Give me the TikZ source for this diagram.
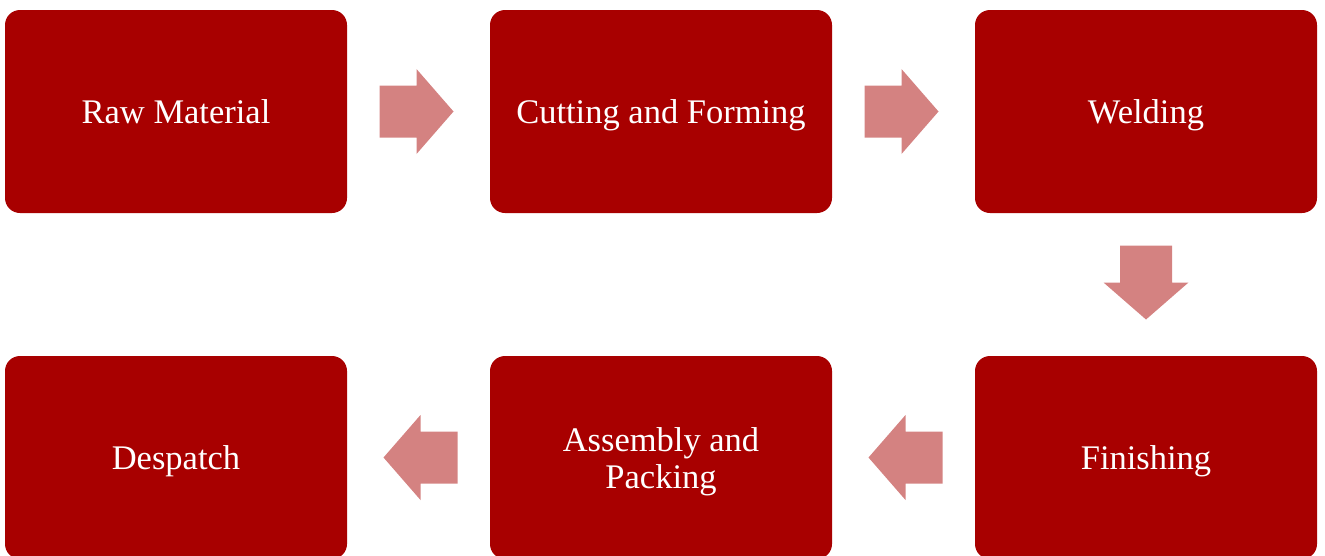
\documentclass[tikz,border=0pt]{standalone}
\usepackage{fontspec}
\setmainfont{Liberation Serif}
\usetikzlibrary{calc}
\definecolor{boxred}{RGB}{168,0,0}
\definecolor{arrowpink}{RGB}{212,130,129}
\begin{document}
\begin{tikzpicture}[
  x=1pt, y=-1pt,
  stage/.style={rectangle, rounded corners=15pt, fill=boxred, draw=none, text=white,
    minimum width=342pt, minimum height=203pt, align=center,
    text height=31pt, text depth=7pt,
    font=\fontsize{34.5}{37}\selectfont},
  blockarrow/.pic={\fill[arrowpink] (-37,-26) -- (0,-26) -- (0,-42.5) -- (37,0) -- (0,42.5) -- (0,26) -- (-37,26) -- cycle;}
]
  \useasboundingbox (0,0) rectangle (1325,555);
  % top row
  \node[stage] (raw) at (176,111.5) {Raw Material};
  \node[stage] (cut) at (661,111.5) {Cutting and Forming};
  \node[stage] (weld) at (1146,111.5) {Welding};
  % bottom row
  \node[stage] (finish) at (1146,457.5) {Finishing};
  \node[stage, text height=68pt] (assy) at (661,457.5) {Assembly and\\Packing};
  \node[stage] (desp) at (176,457.5) {Despatch};
  % block arrows between stages
  \pic at ($(raw.east)!0.5!(cut.west)+(-2,0)$) {blockarrow};
  \pic at ($(cut.east)!0.5!(weld.west)+(-2,0)$) {blockarrow};
  \pic[rotate=-90] at ($(weld.south)!0.5!(finish.north)+(0,-2)$) {blockarrow};
  \pic[rotate=180] at ($(finish.west)!0.5!(assy.east)+(2,0)$) {blockarrow};
  \pic[rotate=180] at ($(assy.west)!0.5!(desp.east)+(2,0)$) {blockarrow};
\end{tikzpicture}
\end{document}
